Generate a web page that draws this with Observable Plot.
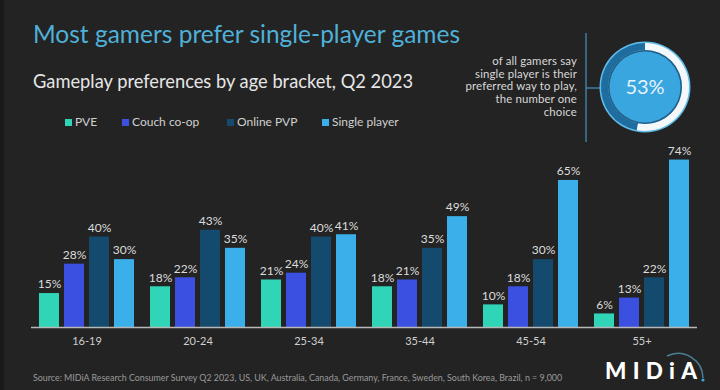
<!DOCTYPE html>
<html>
<head>
<meta charset="utf-8">
<script src="https://cdn.jsdelivr.net/npm/d3@7"></script>
<script src="https://cdn.jsdelivr.net/npm/@observablehq/plot@0.6"></script>
<style>
  html, body { margin: 0; padding: 0; background: #232323; }
  #root { position: relative; width: 720px; height: 390px; background: #232323; overflow: hidden; font-family: Lato, "Noto Sans", sans-serif; }
  .abs { position: absolute; white-space: nowrap; }
  #strip { left: 0; top: 0; width: 4px; height: 390px; background: #1a1a1a; }
  #title { left: 33px; top: 22px; font-size: 24.5px; line-height: 24px; color: #4fb0d8; }
  #subtitle { left: 33px; top: 72px; font-size: 18.3px; line-height: 18px; color: #e6e6e6; }
  #legend { left: 0; top: 115px; font-size: 12px; line-height: 14px; color: #d0d0d0; }
  #legend .item { position: absolute; top: 0; display: flex; align-items: center; }
  #legend .sw { width: 7px; height: 7px; margin-right: 3px; }
  #note { right: 143px; top: 55px; font-size: 11.4px; line-height: 12.7px; letter-spacing: 0.15px; color: #d8d8d8; text-align: right; }
  #chart { left: 0; top: 130px; }
  #source { left: 33px; top: 372px; font-size: 9px; line-height: 11px; color: #9a9a9a; transform: scaleX(0.985); transform-origin: 0 0; }
  #logo { left: 600px; top: 345px; }
</style>
</head>
<body>
<div id="root">
  <div id="strip" class="abs"></div>
  <div id="title" class="abs">Most gamers prefer single-player games</div>
  <div id="subtitle" class="abs">Gameplay preferences by age bracket, Q2 2023</div>
  <div id="legend" class="abs"></div>
  <div id="note" class="abs">of all gamers say<br>single player is their<br>preferred way to play,<br>the number one<br>choice</div>
  <svg id="callout" class="abs" style="left:0;top:0" width="720" height="150"></svg>
  <div id="chart" class="abs"></div>
  <div id="source" class="abs">Source: MIDiA Research Consumer Survey Q2 2023, US, UK, Australia, Canada, Germany, France, Sweden, South Korea, Brazil, n = 9,000</div>
  <svg id="logo" class="abs" width="120" height="45"></svg>
</div>
<script>
// Age brackets and the share of gamers preferring each mode (%)
const ages = ["16-19", "20-24", "25-34", "35-44", "45-54", "55+"];
const series = ["PVE", "Couch co-op", "Online PVP", "Single player"];
const seriesColors = ["#30d4b6", "#3b4fe0", "#134a6e", "#3aafea"];
const pve = [15, 18, 21, 18, 10, 6];
const couchCoop = [28, 22, 24, 21, 18, 13];
const onlinePvp = [40, 43, 40, 35, 30, 22];
const singlePlayer = [30, 35, 41, 49, 65, 74];
// Share of all gamers whose number one choice is single player (%)
const singlePlayerShare = 53;

const columns = [pve, couchCoop, onlinePvp, singlePlayer];
const rows = ages.flatMap((age, i) =>
  series.map((s, j) => ({ age, series: s, value: columns[j][i] }))
);

// Legend
const legendX = [65, 122, 227, 322];
const legend = document.getElementById("legend");
series.forEach((s, j) => {
  const item = document.createElement("div");
  item.className = "item";
  item.style.left = legendX[j] + "px";
  item.innerHTML = `<span class="sw" style="background:${seriesColors[j]}"></span><span>${s}</span>`;
  legend.appendChild(item);
});

// Grouped bars: one facet per age bracket
const chart = Plot.plot({
  width: 720,
  height: 220,
  marginTop: 16,
  marginBottom: 23,
  marginLeft: 31,
  marginRight: 23,
  style: { background: "transparent", color: "#cfcfcf", fontFamily: "Lato, 'Noto Sans', sans-serif", fontSize: "11px" },
  fx: { domain: ages, paddingInner: 0.144, paddingOuter: 0.072, label: null, axis: "bottom", tickSize: 0, tickPadding: 10 },
  x: { domain: series, paddingInner: 0.2, paddingOuter: 0, axis: null },
  y: { domain: [0, 80], axis: null },
  color: { domain: series, range: seriesColors },
  marks: [
    Plot.barY(rows, { fx: "age", x: "series", y: "value", fill: "series" }),
    Plot.text(rows, { fx: "age", x: "series", y: "value", text: d => d.value + "%", dy: -9, fill: "#dcdcdc", fontSize: 12 }),
    Plot.ruleY([0], { stroke: "#b8b8b8", strokeWidth: 1.5, insetLeft: -8, insetRight: -8 })
  ]
});
document.getElementById("chart").appendChild(chart);

// Callout: divider and donut showing the single-player share
const callout = d3.select("#callout");
callout.append("line").attr("x1", 586).attr("x2", 586).attr("y1", 33).attr("y2", 142)
  .attr("stroke", "#3c7fa6").attr("stroke-width", 1.5);
callout.append("line").attr("x1", 586).attr("x2", 600).attr("y1", 88).attr("y2", 88)
  .attr("stroke", "#3c7fa6").attr("stroke-width", 1.5);
const donut = callout.append("g").attr("transform", "translate(645,87)");
donut.append("circle").attr("r", 45.5).attr("fill", "#5fbbe9");
const frac = singlePlayerShare / 100;
const ring = d3.arc().innerRadius(37).outerRadius(44);
donut.append("path").attr("d", ring({ startAngle: 2 * Math.PI * frac, endAngle: 2 * Math.PI })).attr("fill", "#1f6d9f");
donut.append("path").attr("d", ring({ startAngle: 0, endAngle: 2 * Math.PI * frac })).attr("fill", "#f4f8fb");
donut.append("circle").attr("r", 37).attr("fill", "#245f86");
donut.append("circle").attr("r", 35.5).attr("fill", "#3aa6e0");
donut.append("text").attr("text-anchor", "middle").attr("dy", "0.35em")
  .attr("font-size", 20).attr("fill", "#e4f3fb").attr("font-family", "Lato, sans-serif")
  .text(singlePlayerShare + "%");

// Logo
const logo = d3.select("#logo");
logo.append("path").attr("d", "M67,11 A25,25 0 0 1 103,33").attr("fill", "none").attr("stroke", "#4b7d94").attr("stroke-width", 1.6);
logo.append("text").attr("x", 5).attr("y", 34).attr("font-size", 22.5).attr("font-weight", 900)
  .attr("textLength", 92).attr("lengthAdjust", "spacing")
  .attr("fill", "#ffffff").attr("font-family", "Lato, sans-serif").text("MIDiA");
logo.append("circle").attr("cx", 103).attr("cy", 35).attr("r", 1.6).attr("fill", "#3aa6e0");
</script>
</body>
</html>
